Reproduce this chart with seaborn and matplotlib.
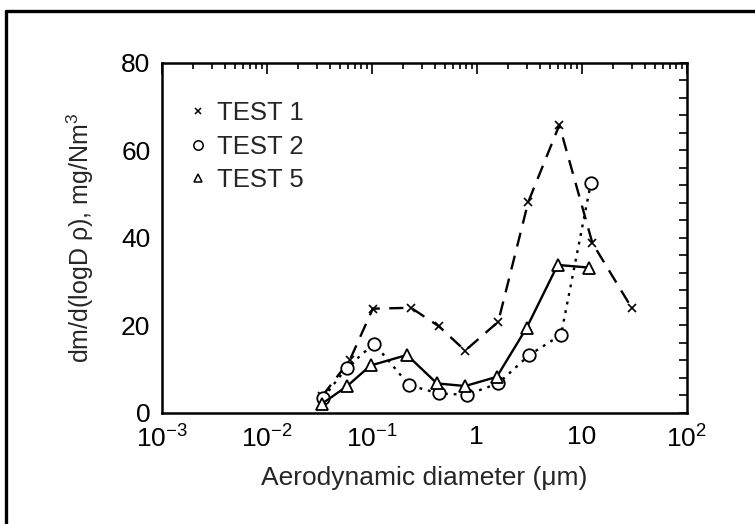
import numpy as np
import pandas as pd
import seaborn as sns
import matplotlib
matplotlib.use("Agg")
import matplotlib.pyplot as plt
from matplotlib.lines import Line2D
from matplotlib.ticker import FixedLocator, LogLocator, MultipleLocator, NullFormatter

# Data
test1_x = [0.034, 0.062, 0.103, 0.238, 0.436, 0.78, 1.61, 3.11, 6.15, 12.7, 30.2]
test1_y = [3.8, 12.0, 23.8, 24.0, 19.8, 14.2, 20.8, 48.2, 65.8, 38.8, 23.9]

test2_x = [0.0347, 0.058, 0.106, 0.228, 0.436, 0.806, 1.61, 3.18, 6.38, 12.3]
test2_y = [3.4, 10.3, 15.8, 6.3, 4.4, 4.1, 6.7, 13.2, 17.8, 52.6]

test5_x = [0.034, 0.058, 0.098, 0.218, 0.42, 0.78, 1.56, 3.0, 5.93, 11.8]
test5_y = [2.1, 6.0, 10.8, 13.2, 6.7, 6.1, 8.2, 19.4, 33.8, 33.2]

series = ["TEST 1", "TEST 2", "TEST 5"]
xtick_vals = [1e-3, 1e-2, 1e-1, 1, 10, 100]
xtick_labels = ["10$^{-3}$", "10$^{-2}$", "10$^{-1}$", "1", "10", "10$^{2}$"]

df = pd.concat([
    pd.DataFrame({"d": test1_x, "v": test1_y, "test": series[0]}),
    pd.DataFrame({"d": test2_x, "v": test2_y, "test": series[1]}),
    pd.DataFrame({"d": test5_x, "v": test5_y, "test": series[2]}),
])

sns.set_style("white")
plt.rcParams["font.family"] = ["Liberation Sans", "DejaVu Sans"]
plt.rcParams["mathtext.fontset"] = "custom"
plt.rcParams["mathtext.rm"] = "Liberation Sans"
plt.rcParams["mathtext.it"] = "Liberation Sans"

fig = plt.figure(figsize=(7.55, 5.24), dpi=100)
ax = fig.add_axes([161.5 / 755, 1 - 412.7 / 524, 525 / 755, 349.7 / 524])

styles = {
    "TEST 1": dict(ls=(0, (6, 4)), marker="x", ms=6, mew=1.2),
    "TEST 2": dict(ls=(0, (1.2, 2.5)), marker="o", ms=9, mew=1.3),
    "TEST 5": dict(ls="-", marker="^", ms=8, mew=1.3),
}

for name in series:
    st = styles[name]
    sub = df[df["test"] == name]
    sns.lineplot(data=sub, x="d", y="v", ax=ax, color="black", lw=1.7,
                 linestyle=st["ls"], marker=st["marker"], markersize=st["ms"],
                 markeredgewidth=st["mew"], markerfacecolor="white",
                 markeredgecolor="black", estimator=None, sort=False, legend=False)

ax.set_xscale("log")
ax.set_xlim(1e-3, 100)
ax.set_ylim(0, 80)

ax.xaxis.set_major_locator(FixedLocator(xtick_vals))
ax.set_xticklabels(xtick_labels)
ax.xaxis.set_minor_locator(LogLocator(base=10, subs=np.arange(2, 10), numticks=20))
ax.xaxis.set_minor_formatter(NullFormatter())
ax.yaxis.set_major_locator(MultipleLocator(20))
ax.yaxis.set_minor_locator(MultipleLocator(4))

ax.tick_params(axis="both", which="both", direction="in", top=True, right=True,
               color="black", width=1.2, labelsize=19, labelcolor="black")
ax.tick_params(axis="x", which="major", length=8, pad=9)
ax.tick_params(axis="x", which="minor", length=4.5)
ax.tick_params(axis="y", which="major", length=6, pad=8)
ax.tick_params(axis="y", which="minor", length=5.5)

for sp in ax.spines.values():
    sp.set_color("black")
    sp.set_linewidth(1.8)

ax.set_xlabel("Aerodynamic diameter (\u03bcm)", fontsize=19, labelpad=10)
ax.set_ylabel("dm/d(logD \u03c1), mg/Nm$^3$", fontsize=18, labelpad=18)

handles = [Line2D([], [], ls="none", color="black", marker=styles[n]["marker"],
                  markersize=styles[n]["ms"] * 0.75, markerfacecolor="white",
                  markeredgewidth=1.1) for n in series]
ax.legend(handles, series, loc="upper left", bbox_to_anchor=(0.05, 0.89),
          frameon=False, fontsize=18.5, handlelength=0.8, handletextpad=0.35,
          labelspacing=0.36, borderpad=0, borderaxespad=0)

# outer frame of the figure
fig.add_artist(Line2D([6 / 755, 1], [1 - 11 / 524, 1 - 11 / 524],
                      transform=fig.transFigure, color="black", lw=2.4))
fig.add_artist(Line2D([6 / 755, 6 / 755], [0, 1 - 11 / 524],
                      transform=fig.transFigure, color="black", lw=2.4))

fig.savefig("out.png", dpi=100)
